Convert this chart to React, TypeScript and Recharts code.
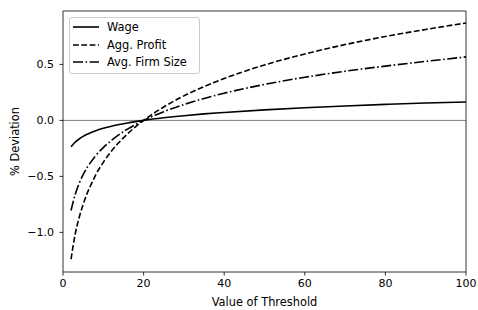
import React from "react";
import {
    LineChart,
    Line,
    XAxis,
    YAxis,
    ReferenceLine,
} from "recharts";

const thresholds = [2, 3, 4, 5, 6, 7, 8, 10, 12, 14, 16, 18, 20, 25, 30, 35, 40, 50, 60, 70, 80, 90, 100];
const wage = [-0.235, -0.195, -0.166, -0.143, -0.124, -0.108, -0.094, -0.071, -0.053, -0.037, -0.023, -0.011, 0, 0.023, 0.042, 0.058, 0.071, 0.094, 0.113, 0.129, 0.143, 0.155, 0.164];
const aggProfit = [-1.24, -1.02, -0.87, -0.75, -0.65, -0.57, -0.495, -0.375, -0.275, -0.193, -0.12, -0.057, 0, 0.12, 0.219, 0.302, 0.374, 0.495, 0.593, 0.677, 0.749, 0.812, 0.87];
const firmSize = [-0.805, -0.665, -0.563, -0.485, -0.42, -0.368, -0.32, -0.243, -0.179, -0.125, -0.078, -0.037, 0, 0.078, 0.142, 0.196, 0.243, 0.321, 0.385, 0.439, 0.485, 0.527, 0.567];

const xTicks = [0, 20, 40, 60, 80, 100];
const yTicks = [-1, -0.5, 0, 0.5];

const data = thresholds.map((x, i) => ({
    x,
    wage: wage[i],
    profit: aggProfit[i],
    firm: firmSize[i],
}));

const FONT = "DejaVu Sans, sans-serif";
const FS = 11.4;
const DASHED = "5.8 2.5";
const DASHDOT = "10 2.5 1.6 2.5";

const series = [
    { key: "wage", name: "Wage", dash: undefined },
    { key: "profit", name: "Agg. Profit", dash: DASHED },
    { key: "firm", name: "Avg. Firm Size", dash: DASHDOT },
];

const fmt = (v: number) => v.toFixed(1).replace("-", "\u2212");

// legend drawn as an overlay so it doesn't eat into the plot offset
function LegendBox() {
    return (
        <div
            style={{
                position: "absolute",
                left: 69,
                top: 17,
                width: 123,
                border: "1px solid #cccccc",
                borderRadius: 3,
                background: "rgba(255,255,255,0.8)",
                padding: "0.5px 3px 2px 3px",
                fontFamily: FONT,
                fontSize: FS,
                color: "#000",
            }}
        >
            {series.map((s) => (
                <div key={s.key} style={{ display: "flex", alignItems: "center", height: 17.5 }}>
                    <svg width={26} height={6} style={{ marginRight: 8, flexShrink: 0 }}>
                        <line x1={0} y1={3} x2={26} y2={3} stroke="#000" strokeWidth={1.6} strokeDasharray={s.dash} />
                    </svg>
                    <span style={{ whiteSpace: "nowrap" }}>{s.name}</span>
                </div>
            ))}
        </div>
    );
}

function YLabel(props: any) {
    const vb = props.viewBox;
    const cx = vb.x + 15;
    const cy = vb.y + vb.height / 2;
    return (
        <text x={cx} y={cy} transform={`rotate(-90 ${cx} ${cy})`} textAnchor="middle" dominantBaseline="central" fontFamily={FONT} fontSize={FS} fill="#000">
            % Deviation
        </text>
    );
}

function XLabel(props: any) {
    const vb = props.viewBox;
    const cx = vb.x + vb.width / 2;
    return (
        <text x={cx} y={vb.y + 30} textAnchor="middle" dominantBaseline="central" fontFamily={FONT} fontSize={FS} fill="#000">
            Value of Threshold
        </text>
    );
}

export default function App() {
    return (
        <div style={{ position: "relative", width: 478, height: 310, background: "#fff" }}>
            <style>{`body{margin:0}`}</style>
            <LineChart width={478} height={310} data={data} margin={{ top: 11, right: 12, left: 0, bottom: 0 }}>
                <XAxis
                    dataKey="x"
                    type="number"
                    domain={[0, 100]}
                    ticks={xTicks}
                    tickSize={3.6}
                    tickMargin={3.5}
                    height={38}
                    stroke="#000"
                    strokeWidth={0.8}
                    tick={{ fill: "#000", fontSize: 11, fontFamily: FONT }}
                    label={<XLabel />}
                />
                <YAxis
                    type="number"
                    domain={[-1.354, 0.977]}
                    ticks={yTicks}
                    tickFormatter={fmt}
                    allowDataOverflow
                    width={63}
                    tickSize={3.6}
                    tickMargin={5.5}
                    stroke="#000"
                    strokeWidth={0.8}
                    tick={{ fill: "#000", fontSize: 11, fontFamily: FONT }}
                    label={<YLabel />}
                />
                <ReferenceLine y={0} stroke="#808080" strokeWidth={1} />
                <ReferenceLine y={0.977} stroke="#000" strokeWidth={0.8} />
                <ReferenceLine x={100} stroke="#000" strokeWidth={0.8} />
                {series.map((s) => (
                    <Line
                        key={s.key}
                        dataKey={s.key}
                        name={s.name}
                        type="monotone"
                        stroke="#000"
                        strokeWidth={1.6}
                        strokeDasharray={s.dash}
                        dot={false}
                        isAnimationActive={false}
                    />
                ))}
            </LineChart>
            <LegendBox />
        </div>
    );
}
